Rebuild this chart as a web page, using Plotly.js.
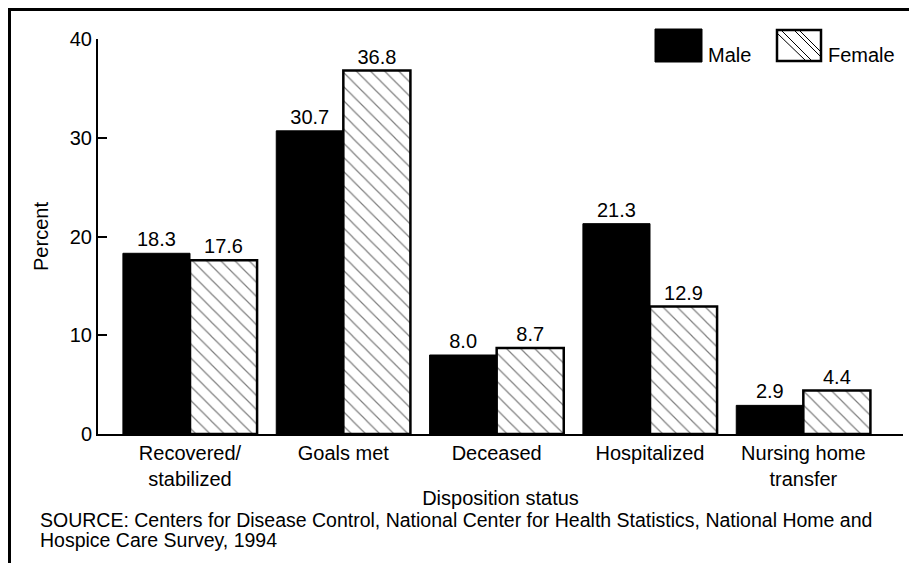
<!DOCTYPE html>
<html>
<head>
<meta charset="utf-8">
<script src="https://cdn.plot.ly/plotly-3.0.1.min.js"></script>
<style>html,body{margin:0;padding:0;background:#fff;}#chart{width:909px;height:563px;}</style>
</head>
<body>
<div id="chart"></div>
<script>
const categories = ["Recovered/<br>stabilized", "Goals met", "Deceased", "Hospitalized", "Nursing home<br>transfer"];
const maleValues = [18.3, 30.7, 8.0, 21.3, 2.9];
const femaleValues = [17.6, 36.8, 8.7, 12.9, 4.4];
const yTicks = [0, 10, 20, 30, 40];
const seriesNames = ["Male", "Female"];
const sourceLines = ["SOURCE: Centers for Disease Control, National Center for Health Statistics, National Home and", "Hospice Care Survey, 1994"];

const idx = categories.map((c, i) => i);
const FONT = "Liberation Sans, Arial, Helvetica, sans-serif";
const FS = 20;

// plot area in pixels
const L = 98, R = 6, T = 39, B = 129, W = 909, H = 563;
const PW = W - L - R, PH = H - T - B;
const px = x => (x - L) / PW;
const py = y => (H - B - y) / PH;

const male = {
  type: "bar", name: seriesNames[0], x: idx, y: maleValues,
  marker: {color: "#000", line: {color: "#000", width: 1}},
  text: maleValues.map(v => v.toFixed(1)), textposition: "outside",
  textfont: {family: FONT, size: FS, color: "#000"}, constraintext: "none",
  cliponaxis: false, hoverinfo: "skip", showlegend: false
};
const female = {
  type: "bar", name: seriesNames[1], x: idx, y: femaleValues,
  marker: {color: "#fff", line: {color: "#000", width: 2.5},
    pattern: {shape: "\\", size: 10, solidity: 0.12, fgcolor: "#000", bgcolor: "#fff", fillmode: "overlay"}},
  text: femaleValues.map(v => v.toFixed(1)), textposition: "outside",
  textfont: {family: FONT, size: FS, color: "#000"}, constraintext: "none",
  cliponaxis: false, hoverinfo: "skip", showlegend: false
};

const shapes = [
  // frame (top and left)
  {type: "line", xref: "paper", yref: "paper", x0: px(8), x1: px(909), y0: py(9.5), y1: py(9.5), line: {color: "#000", width: 3}},
  {type: "line", xref: "paper", yref: "paper", x0: px(9.5), x1: px(9.5), y0: py(8), y1: py(563), line: {color: "#000", width: 3}},
  // legend swatches
  {type: "rect", xref: "paper", yref: "paper", x0: px(655), x1: px(702), y0: py(62), y1: py(29), fillcolor: "#000", line: {color: "#000", width: 1}},
  {type: "rect", xref: "paper", yref: "paper", x0: px(777), x1: px(821), y0: py(61), y1: py(30), fillcolor: "#fff", line: {color: "#000", width: 2.5}},
  {type: "line", xref: "paper", yref: "paper", x0: px(778), x1: px(805), y0: py(34), y1: py(60), line: {color: "#000", width: 1}},
  {type: "line", xref: "paper", yref: "paper", x0: px(782), x1: px(811), y0: py(31), y1: py(60), line: {color: "#000", width: 1}},
  {type: "line", xref: "paper", yref: "paper", x0: px(795), x1: px(820), y0: py(31), y1: py(56), line: {color: "#000", width: 1}},
  {type: "line", xref: "paper", yref: "paper", x0: px(800), x1: px(820), y0: py(31), y1: py(51), line: {color: "#000", width: 1}}
];

const annotations = [
  {xref: "paper", yref: "paper", x: px(706), y: py(55), xanchor: "left", yanchor: "middle", text: seriesNames[0], showarrow: false, font: {family: FONT, size: FS, color: "#000"}},
  {xref: "paper", yref: "paper", x: px(826), y: py(55), xanchor: "left", yanchor: "middle", text: seriesNames[1], showarrow: false, font: {family: FONT, size: FS, color: "#000"}},
  {xref: "paper", yref: "paper", x: px(38), y: py(520), xanchor: "left", yanchor: "middle", text: sourceLines[0], showarrow: false, font: {family: FONT, size: 19.5, color: "#000"}},
  {xref: "paper", yref: "paper", x: px(38), y: py(540), xanchor: "left", yanchor: "middle", text: sourceLines[1], showarrow: false, font: {family: FONT, size: 19.5, color: "#000"}}
];

const layout = {
  width: W, height: H,
  margin: {l: L, r: R, t: T, b: B, pad: 0},
  paper_bgcolor: "#fff", plot_bgcolor: "#fff",
  font: {family: FONT, size: FS, color: "#000"},
  barmode: "group", bargap: 0.125, bargroupgap: 0,
  showlegend: false,
  xaxis: {
    range: [-0.6, 4.65], tickvals: idx, ticktext: categories,
    showline: true, linecolor: "#000", linewidth: 2, ticks: "", showgrid: false, zeroline: false,
    tickfont: {family: FONT, size: FS, color: "#000"},
    title: {text: "Disposition status", font: {family: FONT, size: FS, color: "#000"}, standoff: 2}
  },
  yaxis: {
    range: [0, 40], tickvals: yTicks, ticktext: yTicks.map(String),
    showline: true, linecolor: "#000", linewidth: 2, ticks: "inside", ticklen: 9, tickwidth: 2, tickcolor: "#000",
    showgrid: false, zeroline: false,
    tickfont: {family: FONT, size: FS, color: "#000"},
    title: {text: "Percent", font: {family: FONT, size: FS, color: "#000"}, standoff: 16}
  },
  shapes: shapes, annotations: annotations
};

Plotly.newPlot("chart", [male, female], layout, {displayModeBar: false, staticPlot: true});
</script>
</body>
</html>
